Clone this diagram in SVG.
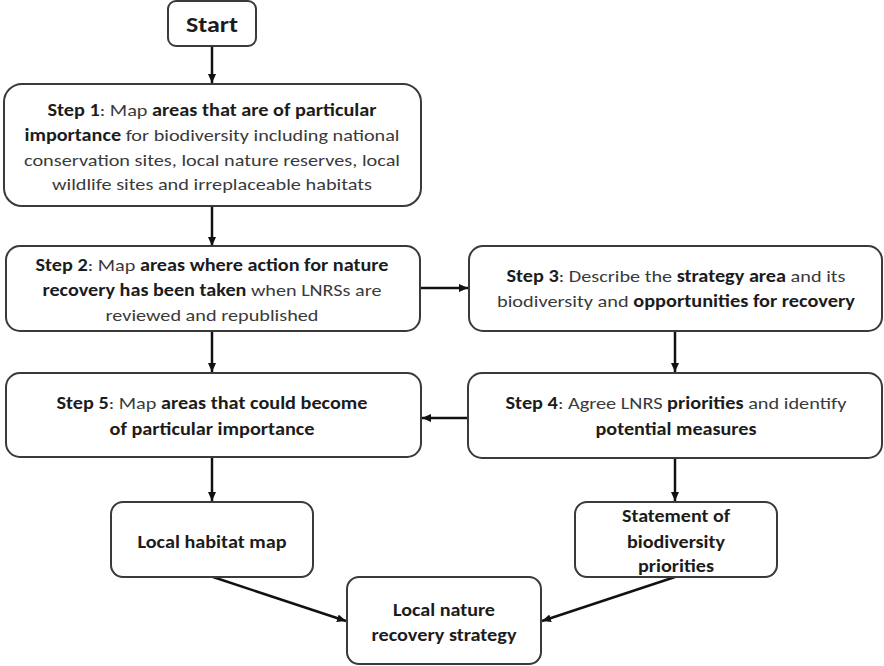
<svg xmlns="http://www.w3.org/2000/svg" width="884" height="666" viewBox="0 0 884 666">
<defs>
<marker id="ah" markerUnits="userSpaceOnUse" markerWidth="10" markerHeight="10" viewBox="0 0 10 10" refX="9" refY="5" orient="auto">
<path d="M0,1 L9,5 L0,9 Z" fill="#111"/>
</marker>
<style>
.box{fill:#fff;stroke:#3a3a3a;stroke-width:2}
.t{font-family:"Carlito","Lato","Liberation Sans",sans-serif;font-size:17px;fill:#3a3a3a;text-anchor:middle}
.b{font-weight:bold;fill:#1c1c1c}
.c{fill:none;stroke:#111;stroke-width:2.5;marker-end:url(#ah)}
</style>
</defs>
<rect width="884" height="666" fill="#fff"/>
<g id="connectors">
<line class="c" x1="212" y1="47" x2="212" y2="83"/>
<line class="c" x1="212" y1="207" x2="212" y2="246"/>
<line class="c" x1="212" y1="331" x2="212" y2="372"/>
<line class="c" x1="420" y1="288" x2="468" y2="288"/>
<line class="c" x1="675" y1="331" x2="675" y2="372"/>
<line class="c" x1="467" y1="418" x2="422" y2="418"/>
<line class="c" x1="212" y1="457" x2="212" y2="501"/>
<line class="c" x1="675" y1="458" x2="675" y2="501"/>
<line class="c" x1="213" y1="577" x2="346" y2="621"/>
<line class="c" x1="675" y1="577" x2="542" y2="621"/>
</g>
<g id="start">
<rect class="box" x="168" y="1" width="88" height="45" rx="8"/>
<text class="t b" x="212" y="32" style="font-size:22px" textLength="52" lengthAdjust="spacingAndGlyphs">Start</text>
</g>
<g id="step1">
<rect class="box" x="4" y="84" width="417" height="122" rx="18"/>
<text class="t" x="212" y="116" textLength="329" lengthAdjust="spacingAndGlyphs"><tspan class="b">Step 1</tspan>: Map <tspan class="b">areas that are of particular</tspan></text>
<text class="t" x="212" y="141" textLength="375" lengthAdjust="spacingAndGlyphs"><tspan class="b">importance</tspan> for biodiversity including national</text>
<text class="t" x="212" y="166" textLength="376" lengthAdjust="spacingAndGlyphs">conservation sites, local nature reserves, local</text>
<text class="t" x="212" y="190" textLength="320" lengthAdjust="spacingAndGlyphs">wildlife sites and irreplaceable habitats</text>
</g>
<g id="step2">
<rect class="box" x="6" y="246" width="414" height="85" rx="14"/>
<text class="t" x="212" y="271" textLength="353" lengthAdjust="spacingAndGlyphs"><tspan class="b">Step 2</tspan>: Map <tspan class="b">areas where action for nature</tspan></text>
<text class="t" x="212" y="296" textLength="339" lengthAdjust="spacingAndGlyphs"><tspan class="b">recovery has been taken</tspan> when LNRSs are</text>
<text class="t" x="212" y="321" textLength="213" lengthAdjust="spacingAndGlyphs">reviewed and republished</text>
</g>
<g id="step3">
<rect class="box" x="469" y="246" width="413" height="85" rx="14"/>
<text class="t" x="676" y="282" textLength="339" lengthAdjust="spacingAndGlyphs"><tspan class="b">Step 3</tspan>: Describe the <tspan class="b">strategy area</tspan> and its</text>
<text class="t" x="676" y="307" textLength="358" lengthAdjust="spacingAndGlyphs">biodiversity and <tspan class="b">opportunities for recovery</tspan></text>
</g>
<g id="step4">
<rect class="box" x="468" y="373" width="414" height="85" rx="14"/>
<text class="t" x="676" y="409" textLength="341" lengthAdjust="spacingAndGlyphs"><tspan class="b">Step 4</tspan>: Agree LNRS <tspan class="b">priorities</tspan> and identify</text>
<text class="t" x="676" y="435" textLength="161" lengthAdjust="spacingAndGlyphs"><tspan class="b">potential measures</tspan></text>
</g>
<g id="step5">
<rect class="box" x="6" y="373" width="415" height="84" rx="14"/>
<text class="t" x="212" y="409" textLength="311" lengthAdjust="spacingAndGlyphs"><tspan class="b">Step 5</tspan>: Map <tspan class="b">areas that could become</tspan></text>
<text class="t" x="212" y="435" textLength="205" lengthAdjust="spacingAndGlyphs"><tspan class="b">of particular importance</tspan></text>
</g>
<g id="habitat-map">
<rect class="box" x="111" y="502" width="202" height="75" rx="12"/>
<text class="t b" x="212" y="548" textLength="149" lengthAdjust="spacingAndGlyphs">Local habitat map</text>
</g>
<g id="statement">
<rect class="box" x="575" y="502" width="202" height="75" rx="12"/>
<text class="t b" x="676" y="522" textLength="108" lengthAdjust="spacingAndGlyphs">Statement of</text>
<text class="t b" x="676" y="548" textLength="98" lengthAdjust="spacingAndGlyphs">biodiversity</text>
<text class="t b" x="676" y="572" textLength="76" lengthAdjust="spacingAndGlyphs">priorities</text>
</g>
<g id="lnrs">
<rect class="box" x="347" y="577" width="194" height="87" rx="12"/>
<text class="t b" x="444" y="616" textLength="102" lengthAdjust="spacingAndGlyphs">Local nature</text>
<text class="t b" x="444" y="641" textLength="145" lengthAdjust="spacingAndGlyphs">recovery strategy</text>
</g>
</svg>
